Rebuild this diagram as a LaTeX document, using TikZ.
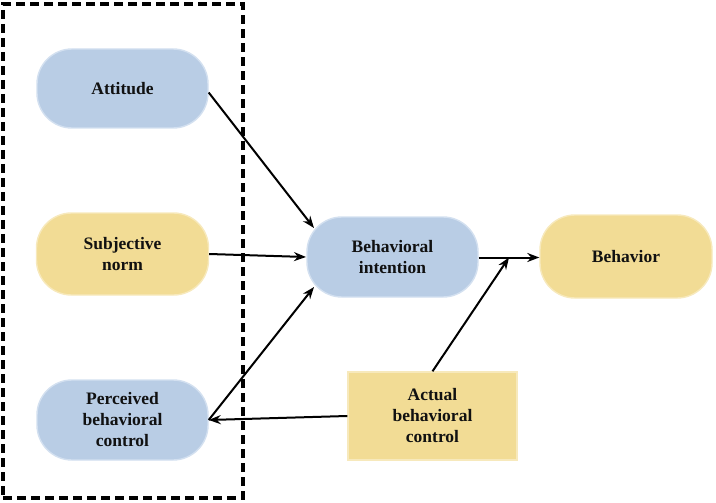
\documentclass[tikz,border=0pt]{standalone}
\usepackage{fontspec}
\setmainfont{Liberation Serif}
\usetikzlibrary{arrows.meta,calc}
\definecolor{boxblue}{HTML}{B9CDE5}
\definecolor{edgeblue}{HTML}{D3E0F0}
\definecolor{boxyellow}{HTML}{F2DC95}
\definecolor{edgeyellow}{HTML}{F7E9BC}
\definecolor{txt}{HTML}{111111}
\begin{document}
\begin{tikzpicture}[x=1pt,y=-1pt,
  base/.style={align=center,font=\fontsize{17.5}{21}\selectfont\bfseries,text=txt,inner sep=0pt,line width=1.4pt},
  bluebox/.style={base,fill=boxblue,draw=edgeblue,rounded corners=35pt},
  yellowbox/.style={base,fill=boxyellow,draw=edgeyellow,rounded corners=35pt},
  rectbox/.style={base,fill=boxyellow,draw=edgeyellow,rounded corners=0pt},
  conn/.style={line width=2pt,draw=black,-{Stealth[length=12pt,width=9pt]}},
  frame/.style={line width=3.4pt,dash pattern=on 9pt off 5pt}]
\useasboundingbox (0,0) rectangle (716,503);
\node[frame,draw,minimum width=240pt,minimum height=494pt,inner sep=0pt] (grp) at (123,251) {};
\node[bluebox,minimum width=171pt,minimum height=79pt] (att) at (122.5,88.5) {Attitude};
\node[yellowbox,minimum width=172pt,minimum height=82pt] (sub) at (122.5,254) {Subjective\\norm};
\node[bluebox,minimum width=171pt,minimum height=80pt] (per) at (122.5,420) {Perceived\\behavioral\\control};
\node[bluebox,minimum width=171pt,minimum height=80pt] (int) at (392.5,257) {Behavioral\\intention};
\node[yellowbox,minimum width=172pt,minimum height=83pt] (beh) at (626,256.5) {Behavior};
\node[rectbox,minimum width=169pt,minimum height=88pt] (act) at (432.5,416) {Actual\\behavioral\\control};
\coordinate (intA) at (314,228);
\coordinate (intS) at (306,257);
\coordinate (intP) at (314,287);
\coordinate (jn) at (509,257.5);
\draw[conn] ($(att.east)+(0,4)$) -- (intA);
\draw[conn] (sub.east) -- (intS);
\draw[conn] (per.east) -- (intP);
\draw[conn] (int.east |- jn) -- (beh.west |- jn);
\draw[conn] (act.north) -- (jn);
\draw[conn] (act.west) -- (per.east);
\end{tikzpicture}
\end{document}
